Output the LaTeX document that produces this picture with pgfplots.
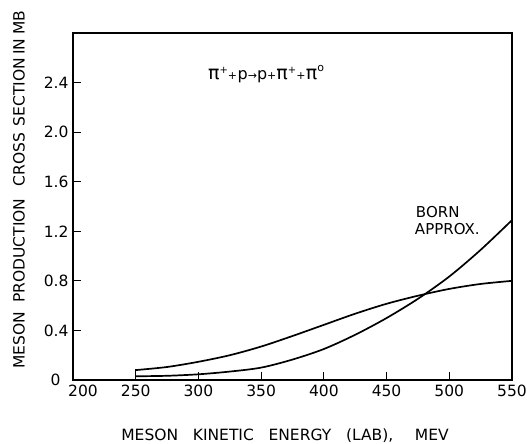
\documentclass[border=0pt]{standalone}
\usepackage{fontspec}
\setmainfont{DejaVu Sans}
\usepackage{pgfplots}
\pgfplotsset{compat=1.18}
\begin{document}
\begin{tikzpicture}
\begin{axis}[
  name=a,
  scale only axis,
  width=439pt, height=347pt,
  xmin=200, xmax=550, ymin=0, ymax=2.8,
  xtick={200,250,...,550},
  xticklabels={\hspace*{20pt}200,250,300,350,400,450,500,550},
  ytick={0,0.4,0.8,1.2,1.6,2.0,2.4},
  yticklabels={0\hspace*{8pt},0.4,0.8,1.2,1.6,2.0,2.4},
  xtick pos=bottom, ytick pos=left,
  tick align=inside,
  major tick length=8pt,
  tick style={line width=1.1pt, black},
  axis line style={line width=1.3pt},
  ticklabel style={font=\fontsize{15.5}{18}\selectfont},
  xticklabel style={yshift=-1pt},
  yticklabel style={xshift=-1pt},
  xlabel={MESON\hspace{0.95em}KINETIC\hspace{0.95em}ENERGY\hspace{0.95em}(LAB),\hspace{1.4em}MEV},
  ylabel={MESON\hspace{0.6em}PRODUCTION\hspace{0.8em}CROSS\hspace{0.4em}SECTION\hspace{0.2em}IN\hspace{0.25em}MB},
  label style={font=\fontsize{15.5}{18}\selectfont},
  xlabel style={at={(axis description cs:0.483,-0.161)}, anchor=center},
  ylabel style={at={(axis description cs:-0.123,0.548)}, anchor=center},
  clip=false,
]
% vertical start line at 250
\addplot[black, line width=1.4pt] coordinates {(250,0) (250,0.086)};
% flatter curve
\addplot[black, line width=1.7pt, smooth] coordinates {
  (250,0.08) (275,0.105) (300,0.147) (325,0.20) (350,0.27) (375,0.355)
  (400,0.445) (425,0.535) (450,0.615) (475,0.68) (500,0.735) (525,0.775) (550,0.80)};
% Born approximation
\addplot[black, line width=1.7pt, smooth] coordinates {
  (250,0.03) (275,0.034) (300,0.046) (325,0.068) (350,0.10) (375,0.165)
  (400,0.25) (425,0.365) (450,0.50) (475,0.655) (500,0.835) (525,1.05) (550,1.29)};
\node[inner sep=0pt] at (axis cs:354,2.47)
  {{\fontsize{19}{20}\selectfont π}\raisebox{1.1ex}{\fontsize{10}{10}\selectfont+}{\fontsize{11}{11}\selectfont+}\hspace{0.05em}{\fontsize{16}{18}\selectfont p}{\fontsize{11}{11}\selectfont→}{\fontsize{16}{18}\selectfont p}{\fontsize{11}{11}\selectfont+}{\fontsize{19}{20}\selectfont π}\raisebox{1.1ex}{\fontsize{10}{10}\selectfont+}{\fontsize{11}{11}\selectfont+}\hspace{0.05em}{\fontsize{19}{20}\selectfont π}\raisebox{1.5ex}{\fontsize{11}{11}\selectfont o}};
\node[font=\fontsize{15}{17}\selectfont, anchor=north west, align=left, inner sep=0pt]
  at (axis cs:472.5,1.40) {\hspace*{1pt}BORN\\[0pt]APPROX.};
\end{axis}
\pgfresetboundingbox
\path ([shift={(-73pt,-64pt)}]a.south west) rectangle ([shift={(15pt,33pt)}]a.north east);
\end{tikzpicture}
\end{document}
